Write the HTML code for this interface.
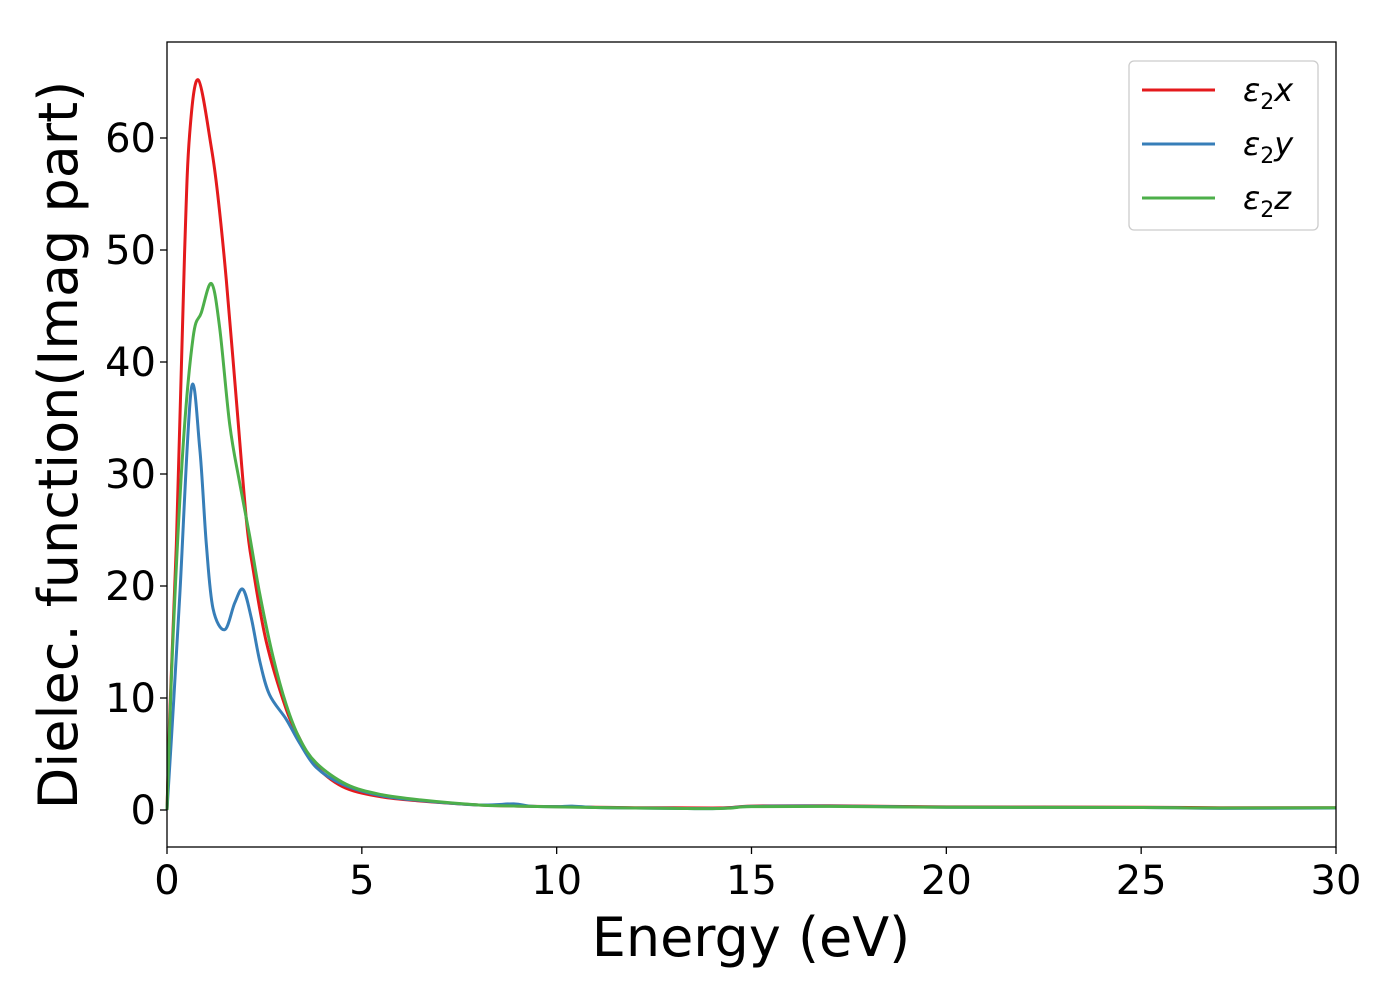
<!DOCTYPE html>
<html><head><meta charset="utf-8"><style>
body{margin:0;background:#fff;}
svg{display:block;font-family:"DejaVu Sans","Liberation Sans",sans-serif;}
</style></head><body>
<svg id="chart" width="1400" height="1000" viewBox="0 0 1400 1000" xmlns="http://www.w3.org/2000/svg">
<rect width="1400" height="1000" fill="#fff"/>
<g id="series"></g>
<g id="axes"></g>
<rect x="167" y="42" width="1169" height="805" fill="none" stroke="#000" stroke-width="1.3"/>
<text x="751" y="956" font-size="54" text-anchor="middle">Energy (eV)</text>
<text transform="translate(77,445) rotate(-90)" font-size="54" text-anchor="middle">Dielec. function(Imag part)</text>
<g>
<rect x="1129" y="61" width="189" height="169" rx="5" fill="#fff" stroke="#ccc" stroke-width="1.3"/>
<line x1="1142" y1="90" x2="1215" y2="90" stroke="#e41a1c" stroke-width="3"/>
<text x="1243" y="101" font-size="32" font-style="italic">ε<tspan font-size="22" font-style="normal" dy="8">2</tspan><tspan dy="-8">x</tspan></text>
<line x1="1142" y1="144" x2="1215" y2="144" stroke="#377eb8" stroke-width="3"/>
<text x="1243" y="155" font-size="32" font-style="italic">ε<tspan font-size="22" font-style="normal" dy="8">2</tspan><tspan dy="-8">y</tspan></text>
<line x1="1142" y1="198" x2="1215" y2="198" stroke="#4daf4a" stroke-width="3"/>
<text x="1243" y="209" font-size="32" font-style="italic">ε<tspan font-size="22" font-style="normal" dy="8">2</tspan><tspan dy="-8">z</tspan></text>
</g>
</svg>
<script>
const xTicks=[0,5,10,15,20,25,30];
const yTicks=[0,10,20,30,40,50,60];
const xE=[0,0.07,0.24,0.45,0.58,0.8,1.14,1.31,1.52,1.78,2.04,2.21,2.55,3.06,3.4,3.75,4.5,5.46,6.5,8,9,10,11,12,13,14,14.5,15,17,20,25,27,30];
const xV=[0,8.5,23.7,49.6,60.3,65.2,59.1,54.7,47.4,36.6,25.8,21.5,15.0,9.0,6.4,4.2,2.1,1.2,0.8,0.45,0.35,0.3,0.25,0.2,0.2,0.18,0.22,0.35,0.38,0.28,0.25,0.2,0.2];
const yE=[0,0.15,0.33,0.62,0.84,1.01,1.18,1.48,1.74,1.95,2.16,2.38,2.63,3.06,3.4,3.83,4.5,5.46,6.5,8,8.9,9.3,10,10.4,11,12,13,14,14.5,15,17,20,25,27,30];
const yV=[0,8.5,19.3,37.5,32.3,23.7,18.0,16.1,18.5,19.7,17.2,13.3,10.3,8.1,6.0,3.8,2.3,1.3,0.85,0.45,0.55,0.35,0.3,0.35,0.22,0.18,0.15,0.12,0.2,0.32,0.35,0.25,0.22,0.15,0.18];
const zE=[0,0.15,0.41,0.67,0.88,1.14,1.35,1.61,1.86,2.12,2.38,2.72,3.06,3.4,3.83,4.6,5.46,6.5,8,9,10,11,12,13,14,14.5,15,17,20,25,27,30];
const zV=[0,15,32.3,42.2,44.4,47.0,43.1,34.4,29.3,24.5,19.3,13.7,9.4,6.4,4.2,2.3,1.4,0.9,0.45,0.35,0.28,0.22,0.18,0.15,0.12,0.18,0.3,0.32,0.25,0.22,0.18,0.2];
const X=e=>167+e*(1169/30);
const Y=v=>810-v*11.2;
const NS="http://www.w3.org/2000/svg";
const ax=document.getElementById('axes');
function mk(t,a){const el=document.createElementNS(NS,t);for(const k in a)el.setAttribute(k,a[k]);return el;}
xTicks.forEach(t=>{
 const l=mk('line',{x1:X(t),x2:X(t),y1:847,y2:854,stroke:'#000','stroke-width':1.3});
 
 
 ax.appendChild(l);
 const tx=mk('text',{x:X(t),y:894,'font-size':40,'text-anchor':'middle'});
 
 
 tx.textContent=t;ax.appendChild(tx);
});
yTicks.forEach(t=>{
 const l=mk('line',{x1:160,x2:167,y1:Y(t),y2:Y(t),stroke:'#000','stroke-width':1.3});
 
 
 ax.appendChild(l);
 const tx=mk('text',{x:156,y:Y(t)+14,'font-size':40,'text-anchor':'end'});
 
 
 tx.textContent=t;ax.appendChild(tx);
});
function pathD(E,V){
 const p=E.map((e,i)=>[X(e),Y(V[i])]);
 let d='M'+p[0][0]+','+p[0][1];
 for(let i=0;i<p.length-1;i++){
  const p0=p[i-1]||p[i],p1=p[i],p2=p[i+1],p3=p[i+2]||p2;
  const c1=[p1[0]+(p2[0]-p0[0])/6,p1[1]+(p2[1]-p0[1])/6];
  const c2=[p2[0]-(p3[0]-p1[0])/6,p2[1]-(p3[1]-p1[1])/6];
  d+=' C'+c1+' '+c2+' '+p2;
 }
 return d;
}
const sg=document.getElementById('series');
[[xE,xV,'#e41a1c','series-eps2-x'],[yE,yV,'#377eb8','series-eps2-y'],[zE,zV,'#4daf4a','series-eps2-z']].forEach(s=>{
 const p=mk('path',{d:pathD(s[0],s[1]),fill:'none',stroke:s[2],'stroke-width':3});
 
 
 sg.appendChild(p);
});
</script>
</body></html>
